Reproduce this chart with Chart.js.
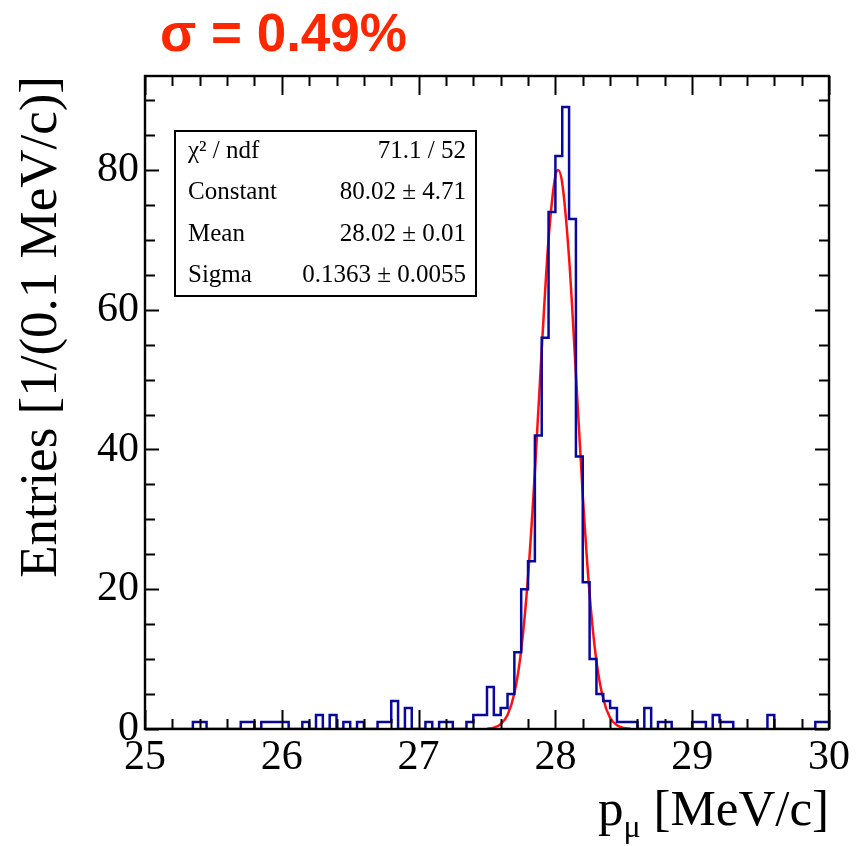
<!DOCTYPE html>
<html>
<head>
<meta charset="utf-8">
<title>p_mu fit</title>
<script src="https://cdn.jsdelivr.net/npm/chart.js@4.4.1/dist/chart.umd.min.js"></script>
<style>
  html, body { margin: 0; padding: 0; background: #fff; }
  #wrap { width: 856px; height: 846px; }
</style>
</head>
<body>
<div id="wrap"><canvas id="momChart" width="856" height="846"></canvas></div>
<script>
// Muon momentum histogram: 100 bins of 0.05 MeV/c from 25 to 30
const binLow = 25.0;
const binWidth = 0.05;
const binCounts = [
    0, 0, 0, 0, 0, 0, 0, 1, 1, 0,      // 25.0 - 25.5
    0, 0, 0, 0, 1, 1, 0, 1, 1, 1,      // 25.5 - 26.0
    1, 0, 0, 1, 0, 2, 0, 2, 0, 1,      // 26.0 - 26.5
    0, 1, 0, 0, 1, 1, 4, 0, 3, 0,      // 26.5 - 27.0
    0, 1, 0, 1, 1, 0, 0, 1, 2, 2,      // 27.0 - 27.5
    6, 2, 3, 5, 11, 20, 24, 42, 56, 74, // 27.5 - 28.0
    82, 89, 73, 39, 21, 10, 5, 4, 3, 1, // 28.0 - 28.5
    1, 1, 0, 3, 0, 1, 1, 0, 0, 0,      // 28.5 - 29.0
    1, 1, 0, 2, 1, 1, 0, 0, 0, 0,      // 29.0 - 29.5
    0, 2, 0, 0, 0, 0, 0, 0, 1, 1       // 29.5 - 30.0
];

// Gaussian fit curve
const fitX = [27.50, 27.55, 27.60, 27.65, 27.70, 27.75, 27.80, 27.85, 27.90, 27.95, 28.00, 28.02,
              28.05, 28.10, 28.15, 28.20, 28.25, 28.30, 28.35, 28.40, 28.45, 28.50, 28.55];
const fitY = [0.05, 0.2, 0.7, 2.0, 5.1, 11.3, 21.8, 36.8, 54.3, 70.1, 79.2, 80.0,
              78.1, 67.4, 50.8, 33.5, 19.3, 9.7, 4.3, 1.6, 0.55, 0.15, 0.04];

// Axes
const xTicks = [25, 26, 27, 28, 29, 30];
const yTicks = [0, 20, 40, 60, 80];
const xMax = 30;
const yMax = 93.45;

// Fit statistics box
const statNames = ['χ² / ndf', 'Constant', 'Mean', 'Sigma'];
const statValues = ['71.1 / 52', '80.02 ± 4.71', '28.02 ± 0.01', '0.1363 ± 0.0055'];

const headline = 'σ = 0.49%';

const serif = '"Liberation Serif", "DejaVu Serif", serif';

// histogram outline points at bin edges
const histPoints = binCounts.map((c, i) => ({ x: binLow + i * binWidth, y: c }));
histPoints.push({ x: xMax, y: binCounts[binCounts.length - 1] });

const fitPoints = fitX.map((x, i) => ({ x: x, y: fitY[i] }));

// frame, inner ticks, stats box, headline and x title
const decorations = {
    id: 'decorations',
    afterDatasetsDraw(chart) {
        const ctx = chart.ctx;
        const area = chart.chartArea;
        const xs = chart.scales.x;
        const ys = chart.scales.y;
        ctx.save();

        // frame
        ctx.strokeStyle = '#000';
        ctx.lineWidth = 2.4;
        ctx.strokeRect(area.left, area.top, area.right - area.left, area.bottom - area.top);

        // x ticks, bottom and top
        ctx.lineWidth = 2;
        ctx.beginPath();
        for (let v = binLow; v <= xMax + 1e-6; v += 0.2) {
            const px = Math.round(xs.getPixelForValue(v)) + 0.5;
            const major = Math.abs(v - Math.round(v)) < 1e-6;
            const len = major ? 19 : 10;
            ctx.moveTo(px, area.bottom);
            ctx.lineTo(px, area.bottom - len);
            ctx.moveTo(px, area.top);
            ctx.lineTo(px, area.top + len);
        }
        // y ticks, left and right
        for (let v = 0; v <= yMax; v += 5) {
            const py = Math.round(ys.getPixelForValue(v)) + 0.5;
            const len = v % 20 === 0 ? 14 : 10;
            ctx.moveTo(area.left, py);
            ctx.lineTo(area.left + len, py);
            ctx.moveTo(area.right, py);
            ctx.lineTo(area.right - len, py);
        }
        ctx.stroke();

        // stats box
        const bx = 175, by = 131, bw = 301, bh = 165;
        ctx.fillStyle = '#fff';
        ctx.fillRect(bx, by, bw, bh);
        ctx.lineWidth = 2;
        ctx.strokeRect(bx, by, bw, bh);
        ctx.fillStyle = '#000';
        ctx.font = '25px ' + serif;
        ctx.textBaseline = 'middle';
        const rowH = bh / statNames.length;
        statNames.forEach((name, i) => {
            const cy = by + rowH * (i + 0.5);
            ctx.textAlign = 'left';
            ctx.fillText(name, bx + 13, cy);
            ctx.textAlign = 'right';
            ctx.fillText(statValues[i], bx + bw - 10, cy);
        });

        // headline
        ctx.fillStyle = 'rgb(255, 38, 0)';
        ctx.font = 'bold 53px "Liberation Sans", Arial, sans-serif';
        ctx.textAlign = 'left';
        ctx.textBaseline = 'alphabetic';
        ctx.fillText(headline, 160, 51);

        // x axis title: p with subscript mu, right aligned to the frame
        ctx.fillStyle = '#000';
        const mainFont = '51px ' + serif;
        const subFont = '32px ' + serif;
        const tail = ' [MeV/c]';
        ctx.font = mainFont;
        const wTail = ctx.measureText(tail).width;
        const wP = ctx.measureText('p').width;
        ctx.font = subFont;
        const wMu = ctx.measureText('μ').width;
        const base = 825;
        let tx = area.right - wTail - wMu - wP;
        ctx.font = mainFont;
        ctx.fillText('p', tx, base);
        tx += wP;
        ctx.font = subFont;
        ctx.fillText('μ', tx, base + 12);
        tx += wMu;
        ctx.font = mainFont;
        ctx.fillText(tail, tx, base);

        ctx.restore();
    }
};

new Chart(document.getElementById('momChart').getContext('2d'), {
    type: 'line',
    data: {
        datasets: [
            {
                label: 'data',
                data: histPoints,
                borderColor: '#08089e',
                borderWidth: 2.5,
                pointRadius: 0,
                stepped: 'before',
                fill: false
            },
            {
                label: 'fit',
                data: fitPoints,
                borderColor: '#ff1010',
                borderWidth: 2.5,
                pointRadius: 0,
                cubicInterpolationMode: 'monotone',
                fill: false
            }
        ]
    },
    options: {
        responsive: false,
        animation: false,
        layout: {
            padding: { top: 76, right: 27, bottom: 0, left: 0 }
        },
        plugins: {
            legend: { display: false },
            tooltip: { enabled: false }
        },
        scales: {
            x: {
                type: 'linear',
                min: binLow,
                max: xMax,
                grid: { display: false, drawTicks: false },
                border: { display: false },
                afterBuildTicks: (scale) => {
                    scale.ticks = xTicks.map(v => ({ value: v }));
                },
                afterFit: (scale) => { scale.height = 117; },
                ticks: {
                    color: '#000',
                    font: { family: serif, size: 42 },
                    padding: 4,
                    maxRotation: 0
                }
            },
            y: {
                min: 0,
                max: yMax,
                grid: { display: false, drawTicks: false },
                border: { display: false },
                afterBuildTicks: (scale) => {
                    scale.ticks = yTicks.map(v => ({ value: v }));
                },
                afterFit: (scale) => { scale.width = 145; },
                ticks: {
                    color: '#000',
                    font: { family: serif, size: 42 },
                    padding: 6
                },
                title: {
                    display: true,
                    text: 'Entries [1/(0.1 MeV/c)]',
                    align: 'end',
                    color: '#000',
                    font: { family: serif, size: 53 },
                    padding: { top: 10, bottom: 0 }
                }
            }
        }
    },
    plugins: [decorations]
});
</script>
</body>
</html>
